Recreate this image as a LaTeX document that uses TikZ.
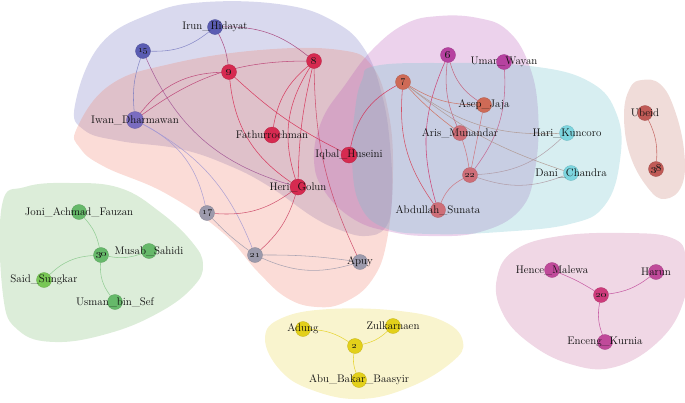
\documentclass[tikz,border=0pt]{standalone}
\usepackage{tikz}

\definecolor{actblue}{RGB}{90,92,178}
\definecolor{actlilac}{RGB}{122,108,192}
\definecolor{actred}{RGB}{214,42,80}
\definecolor{actgray}{RGB}{156,154,172}
\definecolor{actmag}{RGB}{182,66,160}
\definecolor{actrust}{RGB}{206,106,86}
\definecolor{actrose}{RGB}{206,110,120}
\definecolor{actcyan}{RGB}{125,213,223}
\definecolor{actbrown}{RGB}{192,90,86}
\definecolor{actgreen}{RGB}{102,185,106}
\definecolor{actyellow}{RGB}{227,208,26}
\definecolor{actpink}{RGB}{192,74,154}

\definecolor{hullblue}{RGB}{120,120,195}
\definecolor{hullsalmon}{RGB}{240,130,110}
\definecolor{hullpurple}{RGB}{185,95,185}
\definecolor{hullcyan}{RGB}{110,195,205}
\definecolor{hullbrown}{RGB}{200,130,120}
\definecolor{hullgreen}{RGB}{130,190,120}
\definecolor{hullyellow}{RGB}{235,215,80}
\definecolor{hullpink}{RGB}{200,110,160}

\pgfdeclarelayer{hulls}
\pgfdeclarelayer{edges}
\pgfsetlayers{hulls,edges,main}

\begin{document}
\begin{tikzpicture}[
        x=1pt, y=-1pt,
        vertex/.style={circle, inner sep=0pt, minimum size=15pt, fill=#1, draw=#1!85!black, line width=0.3pt},
        tag/.style={font=\fontsize{11}{13}\selectfont, text=black!95, inner sep=0pt},
        num/.style={font=\fontsize{10}{11}\selectfont, text=black!90},
        link/.style={line width=0.55pt, draw=#1, draw opacity=0.85},
        hull/.style={fill=#1, fill opacity=0.28},
        ]
        \useasboundingbox (0,0) rectangle (685,402);

        % Actors
        \node[vertex=actblue, num] (irun) at (215,27) {} ;
        \node[tag] at (irun) {Irun\_Hidayat};
        \node[vertex=actblue, num] (n15) at (143,51) {\oldstylenums{15}};
        \node[vertex=actlilac, minimum size=17pt] (iwan) at (135,120) {};
        \node[tag] at (iwan) {Iwan\_Dharmawan};
        \node[vertex=actred, num] (n8) at (314,61) {\oldstylenums{8}};
        \node[vertex=actred, num] (n9) at (229,72) {\oldstylenums{9}};
        \node[vertex=actred, minimum size=16pt] (fath) at (272,135) {};
        \node[tag] at (fath) {Fathurrochman};
        \node[vertex=actred, minimum size=16pt] (iqbal) at (349,155) {};
        \node[tag] at (iqbal) {Iqbal\_Huseini};
        \node[vertex=actred, minimum size=16pt] (heri) at (298,187) {};
        \node[tag] at (heri) {Heri\_Golun};
        \node[vertex=actgray, num] (n17) at (207,213) {\oldstylenums{17}};
        \node[vertex=actgray, num] (n21) at (255,255) {\oldstylenums{21}};
        \node[vertex=actgray] (apuy) at (360,262) {};
        \node[tag] at (apuy) {Apuy};

        \node[vertex=actmag, num] (n6) at (448,55) {\oldstylenums{6}};
        \node[vertex=actmag] (umar) at (504,62) {};
        \node[tag] at (umar) {Umar\_Wayan};
        \node[vertex=actrust, num] (n7) at (403,82) {\oldstylenums{7}};
        \node[vertex=actrust] (asep) at (484,105) {};
        \node[tag] at (asep) {Asep\_Jaja};
        \node[vertex=actrose] (aris) at (460,133) {};
        \node[tag] at (aris) {Aris\_Munandar};
        \node[vertex=actcyan] (hari) at (567,133) {};
        \node[tag] at (hari) {Hari\_Kuncoro};
        \node[vertex=actcyan] (dani) at (571,173) {};
        \node[tag] at (dani) {Dani\_Chandra};
        \node[vertex=actrose, num] (n22) at (470,175) {\oldstylenums{22}};
        \node[vertex=actrose] (abdullah) at (438,210) {};
        \node[tag] at (abdullah) {Abdullah\_Sunata};

        \node[vertex=actbrown] (ubeid) at (645,113) {};
        \node[tag] at (ubeid) {Ubeid};
        \node[vertex=actbrown, num] (n38) at (656,169) {\oldstylenums{38}};

        \node[vertex=actgreen] (joni) at (79,212) {};
        \node[tag] at (joni) {Joni\_Achmad\_Fauzan};
        \node[vertex=actgreen, num] (n30) at (101,255) {\oldstylenums{30}};
        \node[vertex=actgreen] (musab) at (149,251) {};
        \node[tag] at (musab) {Musab\_Sahidi};
        \node[vertex=actgreen!80!lime] (said) at (44,280) {};
        \node[tag] at (said) {Said\_Sungkar};
        \node[vertex=actgreen] (usman) at (115,302) {};
        \node[tag] at (usman) {Usman\_bin\_Sef};

        \node[vertex=actpink] (hence) at (552,270) {};
        \node[tag] at (hence) {Hence\_Malewa};
        \node[vertex=actpink] (harun) at (656,272) {};
        \node[tag] at (harun) {Harun};
        \node[vertex=actpink!80!red, num] (n20) at (601,295) {\oldstylenums{20}};
        \node[vertex=actpink] (enceng) at (605,342) {};
        \node[tag] at (enceng) {Enceng\_Kurnia};

        \node[vertex=actyellow] (adung) at (303,329) {};
        \node[tag] at (adung) {Adung};
        \node[vertex=actyellow] (zulk) at (393,326) {};
        \node[tag] at (zulk) {Zulkarnaen};
        \node[vertex=actyellow, num] (n2) at (355,346) {\oldstylenums{2}};
        \node[vertex=actyellow] (abu) at (359,380) {};
        \node[tag] at (abu) {Abu\_Bakar\_Baasyir};

        % Ties
        \begin{pgfonlayer}{edges}
        \draw[link=actblue!80] (n15) to[bend right=20] (irun);
        \draw[link=actblue!80] (n15) to[bend right=12] (iwan);
        \draw[link=actlilac!60!actred] (n15) to[bend right=25] (heri);
        \draw[link=actred!60!actblue] (irun) to[bend left=10] (n9);
        \draw[link=actred!60!actblue] (irun) to[bend left=20] (n8);
        \draw[link=actred!70!actlilac] (iwan) to[bend left=25] (n9);
        \draw[link=actred!70!actlilac] (iwan) to[bend left=18] (n8);
        \draw[link=actlilac!70] (iwan) to[bend left=25] (n17);
        \draw[link=actlilac!70] (iwan) to[bend left=20] (n21);
        \draw[link=actred] (n9) to[bend right=25] (heri);
        \draw[link=actred] (n9) to[bend right=8] (iqbal);
        \draw[link=actred] (n8) to[bend right=20] (fath);
        \draw[link=actred] (n8) to[bend right=25] (heri);
        \draw[link=actred] (n8) to[bend right=6] (heri);
        \draw[link=actred!80!actgray] (n8) to[bend right=12] (apuy);
        \draw[link=actred!80!actgray] (heri) to[bend left=20] (n17);
        \draw[link=actred!80!actgray] (heri) to[bend left=15] (n21);
        \draw[link=actgray] (n17) to[bend right=5] (n21);
        \draw[link=actgray] (n21) to[bend left=4] (apuy);
        \draw[link=actgray] (n21) to[bend right=20] (apuy);
        \draw[link=actred] (iqbal) to[bend left=25] (n7);

        \draw[link=actred!70!actrust] (n7) to[bend right=20] (abdullah);
        \draw[link=actred!70!actmag] (n6) to[bend right=20] (abdullah);
        \draw[link=actrust!60!actmag] (n6) to[bend right=15] (aris);
        \draw[link=actrust!60!actmag] (n6) to[bend right=20] (asep);
        \draw[link=actrose!60!actmag] (umar) to[bend left=20] (n22);
        \draw[link=actrust] (n7) to[bend right=15] (asep);
        \draw[link=actrust] (n7) to[bend right=5] (aris);
        \draw[link=actrust!60!actcyan] (n7) to[bend right=20] (hari);
        \draw[link=actrust!60!actcyan] (n7) to[bend right=10] (dani);
        \draw[link=actrose] (aris) to[bend left=5] (n22);
        \draw[link=actrose] (asep) to (n22);
        \draw[link=actrose!60!actcyan] (n22) to[bend right=20] (hari);
        \draw[link=actrose!60!actcyan] (n22) to[bend right=20] (dani);
        \draw[link=actrose] (n22) to[bend right=20] (abdullah);

        \draw[link=actbrown] (ubeid) to[bend left=15] (n38);

        \draw[link=actgreen!80] (joni) to[bend left=15] (n30);
        \draw[link=actgreen!80] (n30) to[bend right=15] (musab);
        \draw[link=actgreen!80] (n30) to[bend right=20] (said);
        \draw[link=actgreen!80] (n30) to[bend right=20] (usman);

        \draw[link=actpink] (hence) to[bend left=5] (n20);
        \draw[link=actpink] (n20) to[bend right=15] (harun);
        \draw[link=actpink] (n20) to[bend right=15] (enceng);

        \draw[link=actyellow] (adung) to[bend left=15] (n2);
        \draw[link=actyellow] (n2) to[bend right=15] (zulk);
        \draw[link=actyellow] (n2) to[bend right=15] (abu);
        \end{pgfonlayer}

        % Communities
        \begin{pgfonlayer}{hulls}
        \fill[hull=hullblue] plot[smooth cycle, tension=0.7] coordinates {(75,105) (100,45) (150,14) (206,2) (285,5) (335,22) (365,50) (382,95) (390,145) (392,200) (385,228) (365,236) (340,230) (313,217) (270,187) (230,166) (180,149) (120,141) (84,130)};
        \fill[hull=hullsalmon] plot[smooth cycle, tension=0.7] coordinates {(77,128) (110,85) (170,64) (260,50) (340,50) (372,66) (388,110) (393,170) (387,240) (372,280) (345,302) (317,307) (287,298) (258,272) (222,232) (165,193) (105,167) (80,148)};
        \fill[hull=hullpurple] plot[smooth cycle, tension=0.7] coordinates {(439,16) (478,18) (507,30) (528,62) (538,110) (535,170) (520,210) (480,232) (430,236) (392,232) (355,220) (325,192) (314,160) (322,120) (345,85) (372,50) (405,24)};
        \fill[hull=hullcyan] plot[smooth cycle, tension=0.7] coordinates {(375,66) (440,63) (530,66) (590,82) (617,115) (620,160) (605,205) (570,224) (500,232) (430,234) (385,228) (360,205) (352,160) (355,110) (362,80)};
        \fill[hull=hullbrown] plot[smooth cycle, tension=0.7] coordinates {(642,80) (660,84) (674,108) (684,150) (682,185) (665,199) (648,188) (630,155) (624,115) (630,88)};
        \fill[hull=hullgreen] plot[smooth cycle, tension=0.7] coordinates {(2,205) (25,187) (70,183) (120,188) (160,212) (192,242) (203,265) (193,287) (160,312) (110,333) (55,342) (18,330) (3,295)};
        \fill[hull=hullyellow] plot[smooth cycle, tension=0.7] coordinates {(265,338) (282,318) (330,309) (400,311) (445,322) (463,342) (452,362) (410,387) (360,399) (312,390) (280,370)};
        \fill[hull=hullpink] plot[smooth cycle, tension=0.7] coordinates {(497,278) (515,250) (560,236) (625,233) (672,238) (686,258) (684,300) (660,340) (615,367) (570,364) (528,342) (502,312)};
        \end{pgfonlayer}

    \end{tikzpicture}
\end{document}
